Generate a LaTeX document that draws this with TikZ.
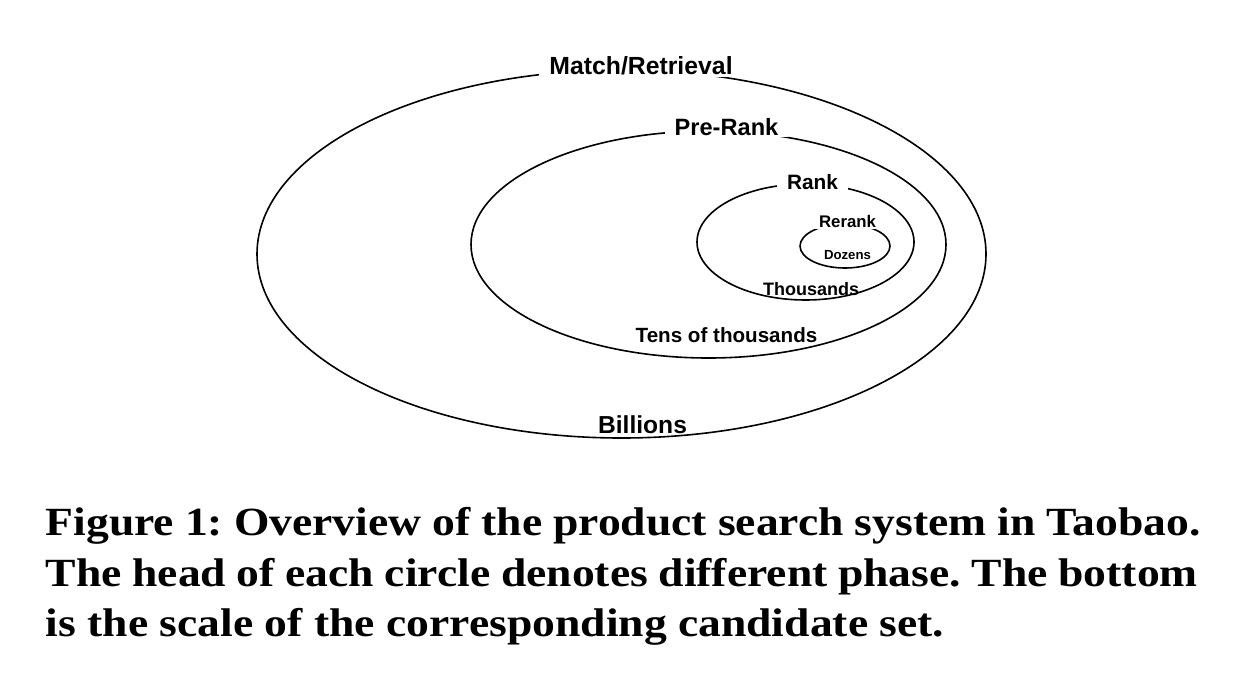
\documentclass[tikz,border=0pt]{standalone}
\usepackage{fontspec}
\setmainfont{Liberation Serif}
\newfontfamily\labelfont{Liberation Sans}
\newfontfamily\capfont[FakeStretch=1.14]{Liberation Serif}
\tikzset{every picture/.style={line width=0.8pt}}
\tikzset{
  phase/.style={fill=white,inner xsep=5pt,inner ysep=1pt,anchor=base},
  setsize/.style={inner sep=0pt,anchor=base},
  capline/.style={inner sep=0pt,anchor=base west,font=\capfont\fontsize{20}{24}\selectfont\bfseries\frenchspacing}
}
\newcommand{\lbl}[1]{\labelfont\bfseries\fontsize{#1}{#1}\selectfont}

\begin{document}
\begin{tikzpicture}[x=0.5pt,y=-0.5pt]
\useasboundingbox (0,0) rectangle (1240,674);
% the four phases, outermost first
\draw (621.5,254) ellipse [x radius=364.5, y radius=184];
\draw (708.5,244.5) ellipse [x radius=237.5, y radius=113.5];
\draw (805.5,242) ellipse [x radius=108.5, y radius=58];
\draw (845,246) ellipse [x radius=45, y radius=22];
% heads
\node[phase] (match) at (641,75) {\lbl{12.4}Match/Retrieval};
\node[phase] (prerank) at (726.5,135) {\lbl{11.8}Pre-Rank};
\node[phase] (rank) at (812.5,189) {\lbl{10.4}Rank};
\node[phase,inner xsep=3pt] (rerank) at (847.5,227.3) {\lbl{8.4}Rerank};
% bottoms
\node[setsize] (dozens) at (847.5,259.5) {\lbl{6.6}Dozens};
\node[setsize] (thousands) at (811,295) {\lbl{9}Thousands};
\node[setsize] (tens) at (726.5,342.3) {\lbl{10.3}Tens of thousands};
\node[setsize] (billions) at (642.5,433) {\lbl{12.3}Billions};
% caption
\node[capline] (cap1) at (45,535) {\makebox[577.5pt][s]{Figure 1: Overview of the product search system in Taobao.}};
\node[capline] (cap2) at (45,586) {\makebox[576pt][s]{The head of each circle denotes different phase. The bottom}};
\node[capline] (cap3) at (45,636.5) {is the scale of the corresponding candidate set.};
\end{tikzpicture}
\end{document}
